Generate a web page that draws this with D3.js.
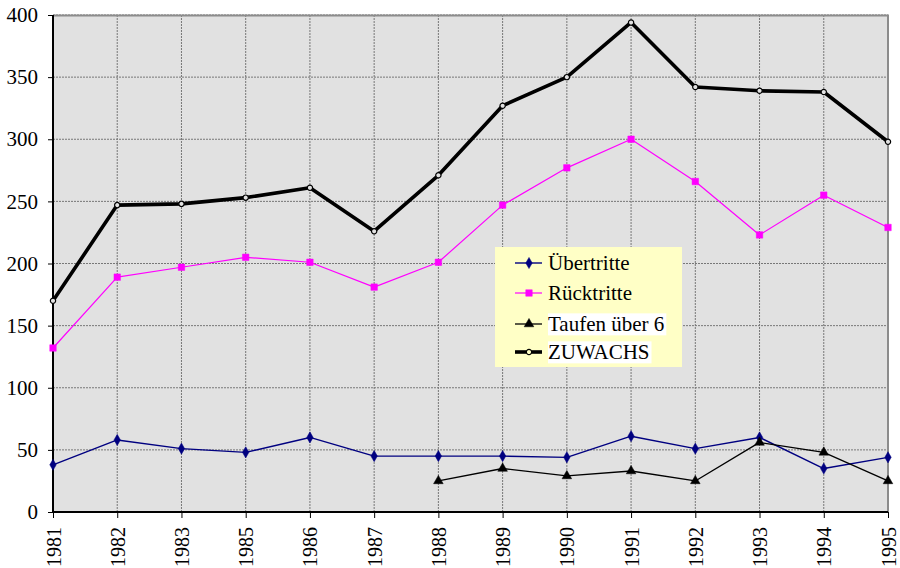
<!DOCTYPE html>
<html>
<head>
<meta charset="utf-8">
<script src="https://d3js.org/d3.v7.min.js"></script>
<style>
  body { margin: 0; background: #fff; }
</style>
</head>
<body>
<div id="chart"></div>
<script>
// Data
//=================================
var years = ["1981", "1982", "1983", "1985", "1986", "1987", "1988", "1989", "1990", "1991", "1992", "1993", "1994", "1995"];
var uebertritte = [38, 58, 51, 48, 60, 45, 45, 45, 44, 61, 51, 60, 35, 44];
var ruecktritte = [132, 189, 197, 205, 201, 181, 201, 247, 277, 300, 266, 223, 255, 229];
var taufen = [null, null, null, null, null, null, 25, 35, 29, 33, 25, 56, 48, 25];
var zuwachs = [170, 247, 248, 253, 261, 226, 271, 327, 350, 394, 342, 339, 338, 298];
var yTicks = [0, 50, 100, 150, 200, 250, 300, 350, 400];

var seriesNames = ["Übertritte", "Rücktritte", "Taufen über 6", "ZUWACHS"];

var serifFont = "'Liberation Serif'";

// Set up the chart
//=================================
var svgWidth = 900;
var svgHeight = 568;
var margin = { top: 15, right: 12, bottom: 56, left: 53 };
var width = svgWidth - margin.left - margin.right;
var height = svgHeight - margin.top - margin.bottom;

var svg = d3.select("#chart")
  .append("svg")
  .attr("width", svgWidth)
  .attr("height", svgHeight);

var chartGroup = svg.append("g")
  .attr("transform", `translate(${margin.left}, ${margin.top})`);

var xScale = d3.scalePoint()
  .domain(years)
  .range([0, width]);

var yScale = d3.scaleLinear()
  .domain([0, 400])
  .range([height, 0]);

// plot background
chartGroup.append("rect")
  .attr("width", width)
  .attr("height", height)
  .attr("fill", "#e1e1e1");

// grid lines
chartGroup.append("g").selectAll("line")
  .data(yTicks.slice(1))
  .enter()
  .append("line")
  .attr("x1", 0).attr("x2", width)
  .attr("y1", d => yScale(d)).attr("y2", d => yScale(d))
  .attr("stroke", "#777")
  .attr("stroke-width", 1)
  .attr("stroke-dasharray", "2,1");

chartGroup.append("g").selectAll("line")
  .data(years.slice(1, years.length - 1))
  .enter()
  .append("line")
  .attr("x1", d => xScale(d)).attr("x2", d => xScale(d))
  .attr("y1", 0).attr("y2", height)
  .attr("stroke", "#777")
  .attr("stroke-width", 1)
  .attr("stroke-dasharray", "2,1");

// top and right border (gray)
chartGroup.append("path")
  .attr("d", `M0,0.5H${width}V${height}`)
  .attr("fill", "none")
  .attr("stroke", "#8c8c8c")
  .attr("stroke-width", 2);

// Axes
//=================================
var leftAxis = d3.axisLeft(yScale).tickValues(yTicks).tickSize(5).tickPadding(10);
var bottomAxis = d3.axisBottom(xScale).tickSize(6).tickPadding(8);

var yAxis = chartGroup.append("g").call(leftAxis);
yAxis.attr("font-family", null).attr("font-size", null);
yAxis.select(".domain").attr("stroke-width", 2).attr("d", `M0,0V${height}`);
yAxis.selectAll("text")
  .style("font-family", serifFont)
  .style("font-size", "21px")
  .attr("fill", "#000");

var xAxis = chartGroup.append("g")
  .attr("transform", `translate(0, ${height})`)
  .call(bottomAxis);
xAxis.attr("font-family", null).attr("font-size", null);
xAxis.select(".domain").attr("stroke-width", 2).attr("d", `M0,0H${width}`);
xAxis.selectAll("text")
  .style("font-family", serifFont)
  .style("font-size", "20px")
  .attr("fill", "#000")
  .attr("transform", "rotate(-90)")
  .attr("text-anchor", "end")
  .attr("x", -15)
  .attr("y", 0)
  .attr("dy", "0.35em");

// Lines and markers
//=================================
var diamond = d3.symbol().type(d3.symbolDiamond).size(36);
var square = d3.symbol().type(d3.symbolSquare).size(42);
var triangle = d3.symbol().type(d3.symbolTriangle).size(40);
var circle = d3.symbol().type(d3.symbolCircle).size(22);

var series = [
  { values: uebertritte, color: "#000080", width: 1.4, symbol: diamond, fill: "#000080" },
  { values: ruecktritte, color: "#ff00ff", width: 1.2, symbol: square, fill: "#ff00ff" },
  { values: taufen, color: "#000000", width: 1.3, symbol: triangle, fill: "#000000" },
  { values: zuwachs, color: "#000000", width: 3.6, symbol: circle, fill: "#e1e1e1" }
];

var lineGen = d3.line()
  .defined(d => d.v !== null)
  .x(d => xScale(d.year))
  .y(d => yScale(d.v));

series.forEach(function(s) {
  var pts = years.map((y, i) => ({ year: y, v: s.values[i] }));
  chartGroup.append("path")
    .datum(pts)
    .attr("d", lineGen)
    .attr("fill", "none")
    .attr("stroke", s.color)
    .attr("stroke-width", s.width)
    .attr("stroke-linejoin", "round");

  chartGroup.append("g").selectAll("path")
    .data(pts.filter(d => d.v !== null))
    .enter()
    .append("path")
    .attr("d", s.symbol)
    .attr("transform", d => `translate(${xScale(d.year)}, ${yScale(d.v)})`)
    .attr("fill", s.fill)
    .attr("stroke", s.color)
    .attr("stroke-width", s === series[3] ? 1.2 : 0.5);
});

// Legend
//=================================
var legend = svg.append("g")
  .attr("transform", "translate(495, 247)");

legend.append("rect")
  .attr("width", 187)
  .attr("height", 120)
  .attr("fill", "#ffffc6");

var rowY = [16, 46, 77, 105];

series.forEach(function(s, i) {
  var row = legend.append("g")
    .attr("transform", `translate(0, ${rowY[i]})`);

  var label = row.append("text")
    .attr("x", 53)
    .attr("y", 0)
    .attr("dy", "0.35em")
    .style("font-size", "21px")
    .style("font-family", serifFont)
    .text(seriesNames[i]);

  // the last two labels sit on a white patch in the original
  if (i >= 2) {
    var bb = label.node().getBBox();
    row.insert("rect", "text")
      .attr("x", bb.x)
      .attr("y", bb.y + 1)
      .attr("width", bb.width + 2)
      .attr("height", bb.height - 2)
      .attr("fill", "#ffffff");
  }

  row.append("line")
    .attr("x1", 20).attr("x2", 47)
    .attr("y1", 0).attr("y2", 0)
    .attr("stroke", s.color)
    .attr("stroke-width", s.width);

  row.append("path")
    .attr("d", s.symbol)
    .attr("transform", "translate(34, 0)")
    .attr("fill", i === 3 ? "#ffffc6" : s.fill)
    .attr("stroke", s.color)
    .attr("stroke-width", i === 3 ? 1.2 : 0.5);
});
</script>
</body>
</html>
